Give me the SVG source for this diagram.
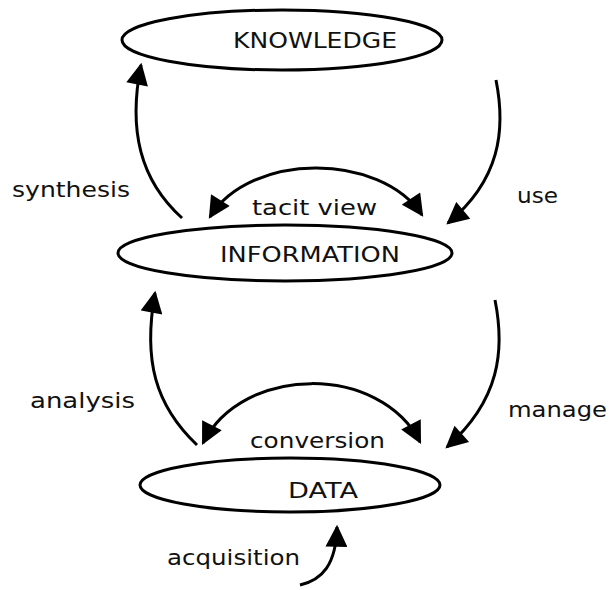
<svg xmlns="http://www.w3.org/2000/svg" width="609" height="590" viewBox="0 0 609 590">
<style>
.node ellipse{fill:#fff;stroke:#000;stroke-width:3}
.lbl{font-family:"DejaVu Sans","Liberation Sans",sans-serif;fill:#111}
.cap{font-size:21px}
.low{font-size:21px}
.conn path{fill:none;stroke:#000;stroke-width:3}
</style>
<defs>
<marker id="ah" viewBox="0 0 20 20" refX="18" refY="10" markerWidth="24" markerHeight="22" markerUnits="userSpaceOnUse" orient="auto-start-reverse">
<path d="M0,0 L20,10 L0,20 z" fill="#000"/>
</marker>
</defs>
<rect width="609" height="590" fill="#fff"/>
<g id="knowledge" class="node">
<ellipse cx="282" cy="40" rx="160" ry="30"/>
<text class="lbl cap" x="233" y="48" textLength="164" lengthAdjust="spacingAndGlyphs">KNOWLEDGE</text>
</g>
<g id="information" class="node">
<ellipse cx="285" cy="253" rx="167" ry="28"/>
<text class="lbl cap" x="220" y="262" textLength="180" lengthAdjust="spacingAndGlyphs">INFORMATION</text>
</g>
<g id="data" class="node">
<ellipse cx="290" cy="485" rx="150" ry="27"/>
<text class="lbl cap" x="288" y="498" textLength="70" lengthAdjust="spacingAndGlyphs">DATA</text>
</g>
<g id="connectors" class="conn">
<path d="M182,218 C140,180 128,130 141,65" marker-end="url(#ah)"/>
<path d="M496,80 C506,130 500,180 448,223" marker-end="url(#ah)"/>
<path d="M210,217 C250,152 380,152 422,215" marker-start="url(#ah)" marker-end="url(#ah)"/>
<path d="M197,445 C155,405 143,360 155,293" marker-end="url(#ah)"/>
<path d="M495,300 C505,350 500,400 447,447" marker-end="url(#ah)"/>
<path d="M203,443 C243,364 380,364 420,442" marker-start="url(#ah)" marker-end="url(#ah)"/>
<path d="M300,585 C322,580 336,565 337,527" marker-end="url(#ah)"/>
</g>
<g id="labels">
<text class="lbl low" x="12" y="197" textLength="118" lengthAdjust="spacingAndGlyphs">synthesis</text>
<text class="lbl low" x="517" y="203" textLength="41" lengthAdjust="spacingAndGlyphs">use</text>
<text class="lbl low" x="252" y="215" textLength="125" lengthAdjust="spacingAndGlyphs">tacit view</text>
<text class="lbl low" x="30" y="408" textLength="105" lengthAdjust="spacingAndGlyphs">analysis</text>
<text class="lbl low" x="508" y="417" textLength="99" lengthAdjust="spacingAndGlyphs">manage</text>
<text class="lbl low" x="250" y="448" textLength="135" lengthAdjust="spacingAndGlyphs">conversion</text>
<text class="lbl low" x="167" y="565" textLength="133" lengthAdjust="spacingAndGlyphs">acquisition</text>
</g>
</svg>
